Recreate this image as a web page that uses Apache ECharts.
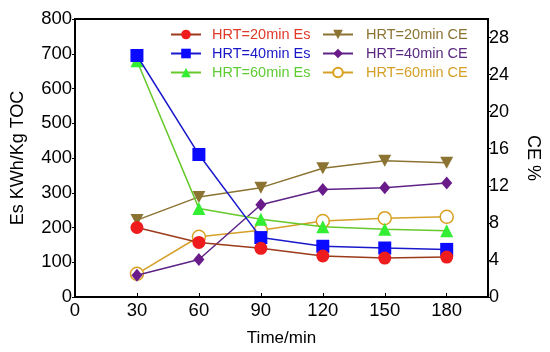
<!DOCTYPE html>
<html>
<head>
<meta charset="utf-8">
<script src="https://cdn.jsdelivr.net/npm/echarts@6/dist/echarts.min.js"></script>
<style>
html,body{margin:0;padding:0;background:#fff;}
#c{width:550px;height:352px;}
</style>
</head>
<body>
<div id="c"></div>
<script>
var times = [30, 60, 90, 120, 150, 180];
var xTicks = [0, 30, 60, 90, 120, 150, 180];
var esHRT20 = [200, 157, 140, 118, 112, 115];
var esHRT40 = [695, 410, 171, 146, 141, 137];
var esHRT60 = [680, 255, 224, 202, 195, 191];
var ceHRT20 = [8.3, 10.8, 11.8, 13.9, 14.7, 14.5];
var ceHRT40 = [2.35, 4.05, 9.95, 11.6, 11.8, 12.3];
var ceHRT60 = [2.5, 6.5, 7.2, 8.2, 8.5, 8.65];
var seriesNames = ['HRT=20min Es','HRT=40min Es','HRT=60min Es','HRT=20min CE','HRT=40min CE','HRT=60min CE'];

function pairs(vals){ return times.map(function(t,i){ return [t, vals[i]]; }); }

var FONT = 'Liberation Sans, Arial, sans-serif';
var cfg = [
  {data: esHRT20, axis: 0, symbol: 'circle', size: 13, line: '#9c3a1c', fill: '#ee1c1c', border: '#ee1c1c', bw: 0, text: '#e03a2a'},
  {data: esHRT40, axis: 0, symbol: 'rect', size: 13, line: '#1a1acc', fill: '#0a0aff', border: '#0a0aff', bw: 0, text: '#1818c8'},
  {data: esHRT60, axis: 0, symbol: 'triangle', size: 13, line: '#66c82a', fill: '#33ee33', border: '#33ee33', bw: 0, text: '#5fcc33'},
  {data: ceHRT20, axis: 1, symbol: 'path://M0,0 L10,0 L5,9 Z', size: [13,12], line: '#8b7332', fill: '#8b7332', border: '#8b7332', bw: 0, text: '#8b7332'},
  {data: ceHRT40, axis: 1, symbol: 'diamond', size: [11,13], line: '#5e2387', fill: '#6a1b8a', border: '#6a1b8a', bw: 0, text: '#5a2a82'},
  {data: ceHRT60, axis: 1, symbol: 'circle', size: 13, line: '#d4a027', fill: '#ffffff', border: '#d9a020', bw: 1.5, text: '#d4a027'}
];

var series = cfg.map(function(c, i){
  return {
    name: seriesNames[i], type: 'line', yAxisIndex: c.axis,
    data: pairs(c.data), symbol: c.symbol, symbolSize: c.size,
    lineStyle: {color: c.line, width: 1.5, type: 'solid'},
    itemStyle: {color: c.fill, borderColor: c.border, borderWidth: c.bw},
    z: 10 - i
  };
});

function legendItems(idx){
  return idx.map(function(i){ return {name: seriesNames[i], textStyle: {color: cfg[i].text}}; });
}

var chart = echarts.init(document.getElementById('c'), null, {renderer: 'canvas'});
chart.setOption({
  animation: false,
  backgroundColor: '#ffffff',
  grid: {left: 75, right: 59, top: 19, bottom: 55, show: true, borderColor: '#000', borderWidth: 2, backgroundColor: 'transparent'},
  legend: [
    {data: legendItems([0,1,2]), orient: 'vertical', left: 165, top: 22, itemWidth: 30, itemHeight: 12, itemGap: 4, textStyle: {fontFamily: FONT, fontSize: 14.5, padding: [0,0,0,6]}, selectedMode: false},
    {data: legendItems([3,4,5]), orient: 'vertical', left: 317, top: 22, itemWidth: 30, itemHeight: 12, itemGap: 4, textStyle: {fontFamily: FONT, fontSize: 14.5, padding: [0,0,0,8]}, selectedMode: false}
  ],
  xAxis: {
    type: 'value', min: 0, max: 200, interval: 30,
    name: 'Time/min', nameLocation: 'middle', nameGap: 33,
    nameTextStyle: {fontFamily: FONT, fontSize: 17, color: '#000'},
    axisLine: {lineStyle: {color: '#000', width: 2}},
    axisTick: {inside: true, length: 4, lineStyle: {color: '#000'}},
    axisLabel: {fontFamily: FONT, fontSize: 18.5, color: '#000', showMaxLabel: false, margin: 4},
    splitLine: {show: false}
  },
  yAxis: [
    {
      type: 'value', min: 0, max: 800, interval: 100,
      name: 'Es KWh/Kg TOC', nameLocation: 'middle', nameGap: 48, nameRotate: 90,
      nameTextStyle: {fontFamily: FONT, fontSize: 18, color: '#000'},
      axisLine: {show: true, lineStyle: {color: '#000', width: 2}},
      axisTick: {show: true, length: 3, lineStyle: {color: '#000'}},
      axisLabel: {fontFamily: FONT, fontSize: 18.5, color: '#000', margin: 3},
      splitLine: {show: false}
    },
    {
      type: 'value', min: 0, max: 30, interval: 4, position: 'right',
      name: 'CE %', nameLocation: 'middle', nameGap: 36, nameRotate: -90,
      nameTextStyle: {fontFamily: FONT, fontSize: 18, color: '#000'},
      axisLine: {show: true, lineStyle: {color: '#000', width: 2}},
      axisTick: {show: true, length: 3, lineStyle: {color: '#000'}},
      axisLabel: {fontFamily: FONT, fontSize: 18, color: '#000', margin: 1, showMaxLabel: false},
      splitLine: {show: false}
    }
  ],
  series: series
});
</script>
</body>
</html>
